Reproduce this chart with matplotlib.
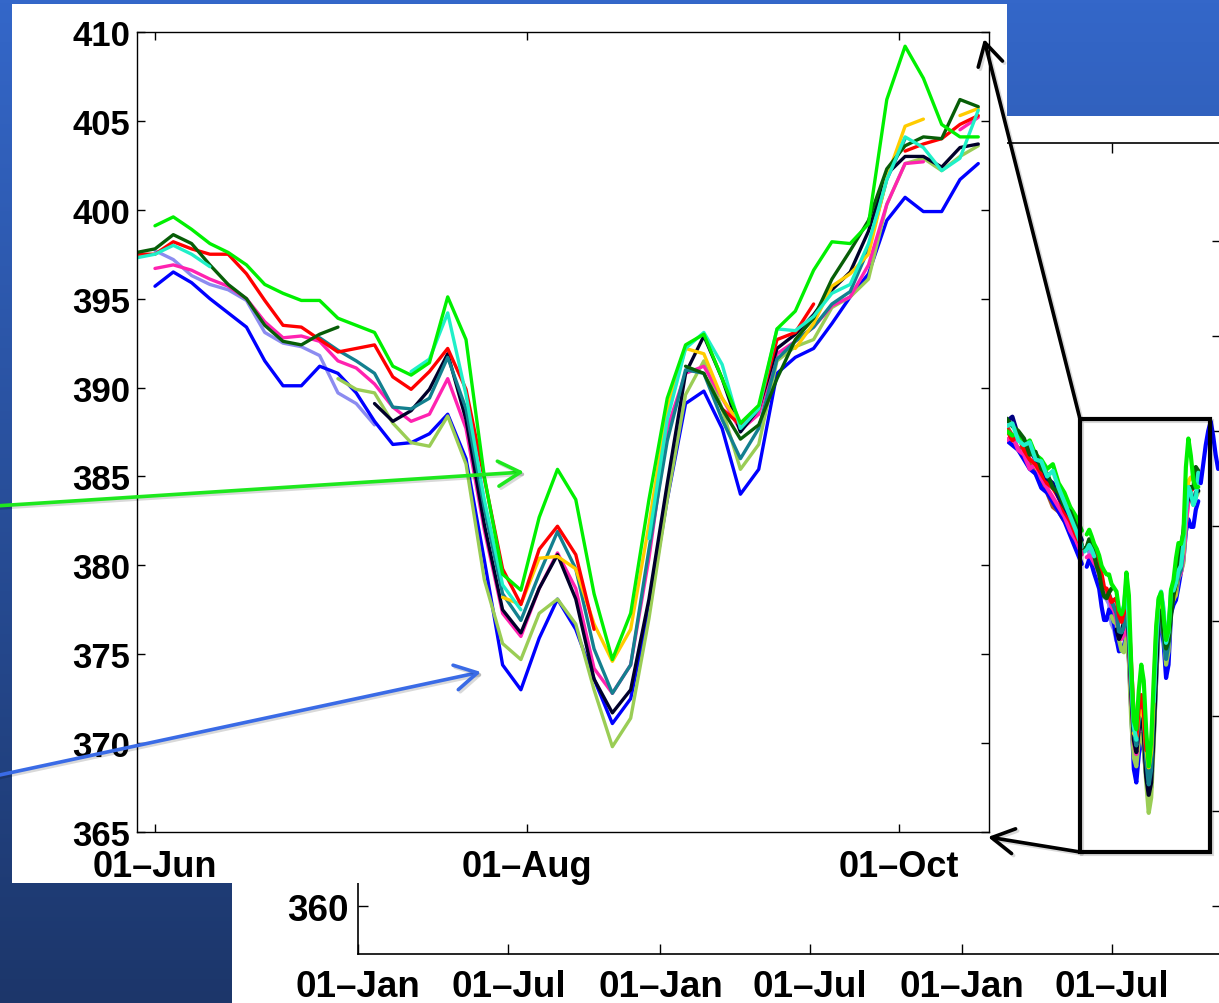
import numpy as np
import pandas as pd
import matplotlib
matplotlib.use('Agg')
import matplotlib.pyplot as plt
import matplotlib.dates as mdates
import matplotlib.patheffects as pe
from matplotlib.patches import Rectangle, FancyArrowPatch

plt.rcParams['font.family'] = ['Liberation Sans', 'DejaVu Sans']
plt.rcParams['font.weight'] = 'bold'

nan = np.nan

# ---- data: smoothed series, every 3 days from 29 May 2014 ----
dates = pd.date_range('2014-05-29', periods=47, freq='3D')

green = [nan, 399.1, 399.6, 398.9, 398.1, 397.6, 396.9, 395.8, 395.3, 394.9,
         394.9, 393.9, 393.5, 393.1, 391.2, 390.7, 391.4, 395.1, 392.7, 385.0,
         379.5, 378.6, 382.7, 385.4, 383.7, 378.4, 374.7, 377.3, 383.7, 389.4,
         392.4, 393.0, 390.5, 388.0, 389.0, 393.3, 394.3, 396.6, 398.2, 398.1,
         399.2, 406.2, 409.2, 407.4, 404.8, 404.1, 404.1]
red = [397.5, 397.5, 398.2, 397.8, 397.5, 397.5, 396.4, 394.9, 393.5, 393.4,
       392.7, 392.0, 392.2, 392.4, 390.6, 389.9, 390.9, 392.2, 389.9, 384.9,
       379.8, 377.8, 380.9, 382.2, 380.6, 376.4, nan, nan, nan, nan,
       nan, nan, 388.8, 387.9, 388.8, 392.7, 393.1, 394.7, nan, nan,
       nan, nan, 403.3, 403.7, 404.0, 404.8, 405.3]
dkgreen = [397.6, 397.8, 398.6, 398.1, 396.9, 395.8, 395.0, 393.5, 392.6, 392.4,
           393.0, 393.4, nan, nan, nan, nan, nan, nan, nan, nan,
           nan, nan, nan, nan, nan, nan, nan, nan, nan, nan,
           391.2, 390.8, 388.8, 387.1, 387.9, 390.5, 392.7, 393.9, 396.1, 397.7,
           399.4, 402.3, 403.6, 404.1, 404.0, 406.2, 405.8]
cyan = [397.3, 397.5, 398.0, 397.5, 396.8, nan, nan, nan, nan, nan,
        nan, nan, nan, nan, nan, 390.9, 391.6, 394.2, 389.6, 383.7,
        378.9, 377.5, nan, nan, nan, nan, nan, nan, 381.5, 388.2,
        392.2, 393.1, 391.3, 387.7, 388.8, 393.3, 393.2, 394.0, 395.3, 395.8,
        398.1, 401.7, 404.1, 403.5, 402.2, 402.9, 405.6]
teal = [nan, nan, nan, nan, nan, nan, nan, nan, nan, nan,
        392.8, 392.1, 391.5, 390.8, 388.9, 388.8, 389.4, 391.7, 388.8, 383.2,
        378.4, 376.9, 379.5, 381.9, 379.8, 375.3, 372.8, 374.4, 380.9, 387.0,
        391.0, 390.8, 388.2, 386.0, 387.7, 391.6, 392.6, 393.4, 394.7, 395.4,
        397.8, 401.7, 404.0, nan, nan, nan, nan]
black = [nan, nan, nan, nan, nan, nan, nan, nan, nan, nan,
         nan, nan, nan, 389.1, 388.1, 388.7, 389.9, 391.9, 388.2, 382.3,
         377.5, 376.2, 378.7, 380.6, 378.1, 373.6, 371.7, 373.0, 378.1, 384.6,
         390.8, 392.9, 390.5, 387.5, 388.8, 392.2, 393.0, 394.1, 395.5, 396.5,
         398.8, 402.0, 403.0, 403.0, 402.4, 403.5, 403.7]
pink = [nan, 396.7, 396.9, 396.6, 396.1, 395.7, 395.0, 393.7, 392.8, 392.9,
        392.6, 391.5, 391.1, 390.2, 388.9, 388.1, 388.5, 390.5, 387.7, 382.0,
        377.3, 376.0, 378.7, 380.7, 378.7, 374.2, 372.8, 374.4, 380.4, 387.7,
        390.8, 391.2, 389.4, 387.6, 388.5, 391.9, 392.6, 393.4, 394.6, 395.1,
        396.9, 400.3, 402.6, 402.7, nan, 404.5, 405.2]
lavender = [nan, 397.7, 397.2, 396.3, 395.8, 395.5, 394.9, 393.1, 392.5, 392.3,
            391.8, 389.7, 389.1, 387.9, nan, nan, nan, nan, nan, nan,
            nan, nan, nan, nan, nan, nan, nan, nan, nan, nan,
            nan, nan, nan, nan, nan, nan, nan, nan, nan, nan,
            nan, nan, nan, nan, nan, nan, nan]
blue = [nan, 395.7, 396.5, 395.9, 395.0, 394.2, 393.4, 391.5, 390.1, 390.1,
        391.2, 390.8, 389.7, 388.1, 386.8, 386.9, 387.4, 388.5, 386.0, 380.3,
        374.4, 373.0, 375.9, 378.1, 376.4, 373.6, 371.1, 372.5, 377.5, 383.7,
        389.1, 389.8, 387.7, 384.0, 385.4, 390.8, 391.7, 392.2, 393.6, 395.1,
        396.4, 399.4, 400.7, 399.9, 399.9, 401.7, 402.6]
yellow = [nan, nan, nan, nan, nan, nan, nan, nan, nan, nan,
          nan, nan, nan, nan, nan, nan, nan, nan, nan, nan,
          378.2, 377.8, 380.4, 380.5, 379.8, 376.7, 374.6, 376.4, 382.3, 388.8,
          392.2, 391.9, 389.4, 387.9, 388.8, nan, 392.2, 393.6, 395.7, 396.4,
          397.5, 401.8, 404.7, 405.1, nan, 405.3, 405.7]
olive = [nan, nan, nan, nan, nan, nan, nan, nan, nan, nan,
         nan, 390.5, 389.9, 389.7, 388.0, 386.9, 386.7, 388.4, 385.7, 379.2,
         375.6, 374.7, 377.3, 378.1, 376.7, 373.0, 369.8, 371.4, 377.0, 383.7,
         389.6, 391.5, 388.8, 385.4, 386.8, 391.5, 392.3, 392.7, 394.5, 395.1,
         396.1, 400.3, 402.6, 402.9, 402.2, 403.0, 403.6]

# weekly values before June, only seen in the zoomed-out chart
pre_dates = pd.date_range('2014-02-24', periods=14, freq='7D')
pre_navy = [411.0, 411.5, 409.5, 409.0, 408.0, 407.0, 406.5, 405.0, 404.5, 403.0, 402.0, 401.0, 400.0, 398.5]
pre_dkgreen = [411.3, 410.5, 410.0, 409.2, 407.5, 407.8, 406.0, 405.5, 404.0, 403.5, 402.0, 401.5, 400.0, 398.0]
pre_cyan = [410.5, 410.8, 409.0, 408.5, 408.8, 407.0, 406.8, 405.2, 405.8, 404.0, 402.5, 401.0, 399.5, 397.8]
pre_green = [410.0, 409.5, 409.8, 408.5, 409.0, 407.5, 407.0, 406.0, 406.5, 404.5, 403.5, 402.0, 401.0, 399.5]
pre_red = [410.2, 409.0, 409.5, 408.0, 407.0, 406.5, 405.5, 404.5, 404.0, 403.0, 401.5, 400.5, 399.0, 397.8]
pre_pink = [409.0, 409.5, 408.0, 407.5, 406.0, 406.5, 405.0, 404.0, 403.0, 402.0, 401.0, 399.5, 398.5, 397.0]
pre_brown = [410.5, 409.5, 408.0, 408.5, 406.5, 405.5, 404.5, 403.5, 402.0, 401.5, 400.5, nan, nan, nan]
pre_blue = [409.0, 408.5, 408.0, 407.0, 406.0, 405.5, 404.0, 403.5, 402.5, 401.5, 400.5, 399.0, 397.5, 396.0]

late_dates = pd.date_range('2014-10-17', periods=8, freq='3D')
late_blue = [404.5, 406.5, 408.5, 410.0, 411.0, 409.5, 407.5, 406.0]

series = [
    (lavender, '#8c8cf0'), (blue, '#0000ff'), (olive, '#9acd55'),
    (pink, '#ff22b0'), (black, '#00002a'), (teal, '#13808f'),
    (yellow, '#ffcc00'), (red, '#ff0000'), (dkgreen, '#075e07'),
    (cyan, '#1ff0c8'), (green, '#00f000'),
]
pre_series = [
    (pre_brown, '#a0522d'), (pre_blue, '#0000ff'), (pre_pink, '#ff22b0'),
    (pre_red, '#ff0000'), (pre_navy, '#000080'), (pre_green, '#00f000'),
    (pre_dkgreen, '#075e07'), (pre_cyan, '#1ff0c8'),
]

W, H = 1219, 1004


def fx(px):
    return px / W


def fy(py):
    return 1 - py / H


fig = plt.figure(figsize=(W / 100, H / 100), dpi=100)

# slide background
bg = fig.add_axes([0, 0, 1, 1], zorder=-10)
top = np.array([0x34, 0x67, 0xc9]) / 255
bot = np.array([0x1c, 0x36, 0x6a]) / 255
t = np.linspace(0, 1, 256)[:, None]
bg.imshow((top * (1 - t) + bot * t)[:, None, :], extent=[0, 1, 0, 1], aspect='auto')
bg.axis('off')

fig.add_artist(Rectangle((fx(232), 0), fx(1219) - fx(232), fy(117), transform=fig.transFigure,
                         facecolor='white', edgecolor='none', zorder=-6))
fig.add_artist(Rectangle((fx(12), fy(884)), fx(1007) - fx(12), fy(5) - fy(884), transform=fig.transFigure,
                         facecolor='white', edgecolor='none', zorder=-3))

fmt = mdates.DateFormatter('%d\u2013%b')
line_kw = dict(solid_joinstyle='round', solid_capstyle='round')

# zoomed-out chart behind
axb = fig.add_axes([fx(358), fy(955), fx(1222) - fx(358), fy(144) - fy(955)], zorder=-5)
for vals, c in series:
    axb.plot(dates, vals, color=c, lw=3, **line_kw)
for vals, c in pre_series:
    axb.plot(pre_dates, vals, color=c, lw=3, **line_kw)
axb.plot(late_dates, late_blue, color='#0000ff', lw=3, **line_kw)
x0 = mdates.date2num(pd.Timestamp('2012-01-01'))
axb.set_xlim(x0, x0 + 1045.7)
axb.set_ylim(354.95, 440.3)
axb.set_yticks(np.arange(360, 431, 10))
axb.xaxis.set_major_locator(mdates.MonthLocator(bymonth=[1, 7]))
axb.xaxis.set_major_formatter(fmt)
axb.tick_params(direction='in', length=7, width=1, top=True, right=True, labelsize=26.5)
axb.tick_params(axis='x', pad=11)
axb.tick_params(axis='y', pad=7)
for s in axb.spines.values():
    s.set_linewidth(1.2)

# main chart
ax = fig.add_axes([fx(137), fy(833), fx(989) - fx(137), fy(33) - fy(833)], zorder=-2)
for vals, c in series:
    ax.plot(dates, vals, color=c, lw=2.4, **line_kw)
j1 = mdates.date2num(pd.Timestamp('2014-06-01'))
o1 = mdates.date2num(pd.Timestamp('2014-10-01'))
ax.set_xlim(j1 - 2.95, o1 + 14.76)
ax.set_ylim(365, 410)
ax.set_yticks(np.arange(365, 411, 5))
ax.xaxis.set_major_locator(mdates.MonthLocator(bymonth=[6, 8, 10]))
ax.xaxis.set_major_formatter(fmt)
ax.tick_params(direction='in', length=6, width=1, top=True, right=True, labelsize=26)
ax.tick_params(axis='x', pad=12)
ax.tick_params(axis='y', pad=5)
for lbl in ax.get_yticklabels():
    lbl.set_fontsize(25)
for s in ax.spines.values():
    s.set_linewidth(1.0)

# box and arrows
shadow = [pe.SimpleLineShadow(offset=(1.5, -1.5), alpha=0.15), pe.Normal()]
fig.add_artist(Rectangle((fx(1080), fy(853)), fx(1210) - fx(1080), fy(420) - fy(853),
                         transform=fig.transFigure, fill=False, edgecolor='black',
                         linewidth=3, zorder=5, path_effects=shadow))


def arrow(p0, p1, color):
    fig.add_artist(FancyArrowPatch((fx(p0[0]), fy(p0[1])), (fx(p1[0]), fy(p1[1])),
                                   transform=fig.transFigure,
                                   arrowstyle='->,head_length=0.8,head_width=0.45',
                                   mutation_scale=20, color=color, linewidth=2.6,
                                   shrinkA=0, shrinkB=0, zorder=6, path_effects=shadow))


arrow((1080, 420), (984, 40), 'black')
arrow((1080, 853), (988, 838), 'black')
arrow((-5, 507), (524, 473), '#1ee81e')
arrow((-5, 777), (481, 673), '#3a6be6')

fig.savefig('out.png', dpi=100)
